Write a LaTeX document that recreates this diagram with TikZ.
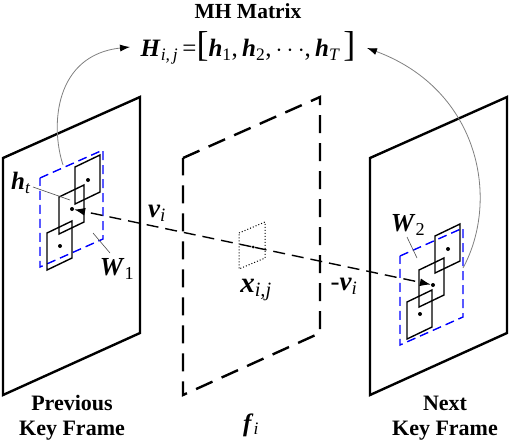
\documentclass[tikz,border=0pt]{standalone}
\usepackage{fontspec}
\setmainfont{Liberation Serif}
\usetikzlibrary{arrows.meta}

\newcommand{\bv}[1]{\textbf{\textit{#1}}}
\newcommand{\fsz}[1]{\fontsize{#1}{#1}\selectfont}
\newcommand{\tallbr}[1]{{\fsz{36}#1}}

\tikzset{
  frame/.style={line width=2.4pt},
  midframe/.style={line width=2.4pt, dash pattern=on 18pt off 10pt},
  patch/.style={line width=1.4pt},
  window/.style={blue, line width=1.4pt, dash pattern=on 9pt off 5pt},
  probe/.style={line width=1pt, dotted},
  dot/.style={circle, fill, inner sep=0pt, minimum size=4pt},
  vec/.style={line width=1.4pt, dash pattern=on 12pt off 7pt, -{Latex[length=11pt,width=8pt]}},
  swing/.style={gray, line width=0.8pt, -{Latex[length=10pt,width=7pt,color=black]}},
  lead/.style={line width=0.6pt, black!70},
  lbl/.style={inner sep=0pt},
  caption/.style={inner sep=0pt, align=center, font={\fontsize{22}{25}\selectfont\bfseries}}
}

\begin{document}
\begin{tikzpicture}[x=1pt, y=-1pt]
   \useasboundingbox (0,0) rectangle (510,447);

   % key frames and the frame in between
   \foreach \dx in {0,367}
      \draw[frame] (3+\dx,158) -- ++(137,-61) -- ++(0,236) -- ++(-137,62) -- cycle;
   \draw[midframe] (183,158) -- ++(137,-61) -- ++(0,236) -- ++(-137,62) -- cycle;

   % search windows
   \draw[window] (40,178) -- ++(63,-28) -- ++(0,89) -- ++(-63,28) -- cycle;
   \draw[window] (400,256) -- ++(63,-28) -- ++(0,89) -- ++(-63,28) -- cycle;

   % hypothesis patches
   \foreach \x/\y in {75/167, 59/197, 47/233, 435/236, 419/270, 407/302}
      \draw[patch] (\x,\y) -- ++(25,-12) -- ++(0,37) -- ++(-25,12) -- cycle;

   % block in the current frame
   \draw[probe] (239,233) -- ++(26,-11) -- ++(0,36) -- ++(-26,11) -- cycle;

   % patch centres
   \node[dot] (p1) at (88,180) {};
   \node[dot] (p2) at (72,209) {};
   \node[dot] (p3) at (60,246) {};
   \node[dot] (n1) at (448,249) {};
   \node[dot] (n2) at (433,285) {};
   \node[dot] (n3) at (420,314) {};
   \node[dot, minimum size=3pt] (xij) at (253,247) {};

   % motion vectors
   \draw[vec] (xij) -- (p2);
   \draw[vec] (xij) -- (n2);

   % labels
   \node[lbl] (title) at (248,11) {\fsz{21.5}\textbf{MH Matrix}};
   \node[lbl] (hm) at (248,48) {\fsz{25}\bv{H}\textsubscript{\textit{i,\,j}}\,=\tallbr{[}\bv{h}\textsubscript{1},\,\bv{h}\textsubscript{2},\,$\cdots$,\,\bv{h}\textsubscript{\textit{T}}\hspace{3pt}\tallbr{]}};
   \node[lbl] (ht) at (21,183) {\fsz{25}\bv{h}\textsubscript{\textit{t}}};
   \node[lbl] (w1) at (117,269) {\fsz{26}\bv{W}\textsubscript{1}};
   \node[lbl] (w2) at (408,225) {\fsz{26}\bv{W}\textsubscript{2}};
   \node[lbl] (vi) at (157,213) {\fsz{27}\bv{v}\textsubscript{\textit{i}}};
   \node[lbl] (mvi) at (344,286) {\fsz{27}-\bv{v}\textsubscript{\textit{i}}};
   \node[lbl] (xl) at (256,290) {\fsz{29}\bv{x}\textsubscript{\textit{i,j}}};
   \node[lbl] (fi) at (251,425) {\fsz{25}\bv{f}\textsubscript{\textit{i}}};
   \node[caption] (prev) at (72,418) {Previous\\Key Frame};
   \node[caption] (next) at (445,418) {Next\\Key Frame};

   % leader lines
   \coordinate (htend) at (70,200);
   \coordinate (w1end) at (93,233);
   \coordinate (w2end) at (417,258);
   \draw[lead] (33,187) -- (htend);
   \draw[lead] (110,253) -- (w1end);
   \draw[lead] (407,237) -- (w2end);

   % gathering into the matrix
   \coordinate (lsrc) at (63,165);
   \coordinate (rsrc) at (463,268);
   \coordinate (lend) at (130,47);
   \coordinate (rend) at (367,48);
   \draw[swing] (lsrc) .. controls (50,125) and (55,55) .. (lend);
   \draw[swing] (rsrc) .. controls (500,200) and (480,90) .. (rend);
\end{tikzpicture}
\end{document}
